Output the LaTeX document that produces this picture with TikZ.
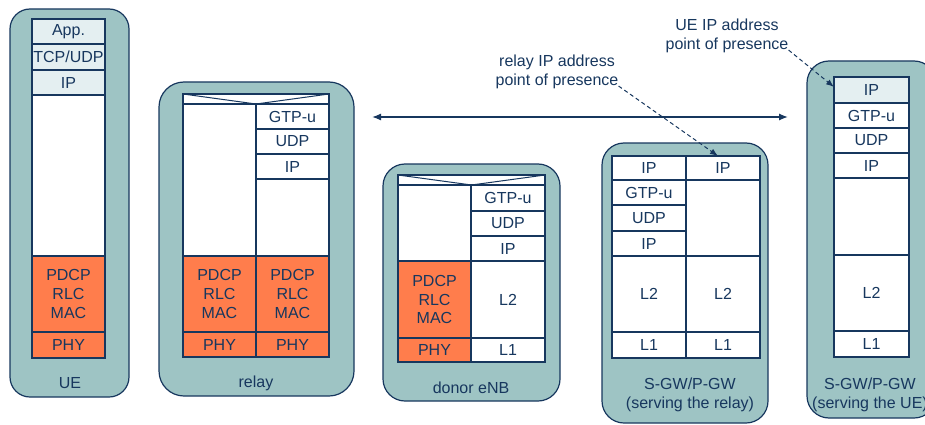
\documentclass[tikz,border=0pt]{standalone}
\usepackage{fontspec}
\setmainfont{Liberation Sans}
\usetikzlibrary{arrows.meta}
\definecolor{tealbg}{RGB}{158,196,196}
\definecolor{navy}{RGB}{23,55,94}
\definecolor{coral}{RGB}{255,125,76}
\definecolor{pale}{RGB}{228,239,241}
% \cellat[style]{name}{x1}{y1}{x2}{y2}{text}
\newcommand{\cellat}[7][]{%
  \node[cell,#1,minimum width={(#5)-(#3)},minimum height={(#6)-(#4)}] (#2)
    at ({((#3)+(#5))/2},{((#4)+(#6))/2}) {#7};}
\tikzset{
  txt/.style={text=navy,font=\fontsize{16}{18.8}\selectfont,align=center,inner sep=0pt},
  cell/.style={txt,draw=navy,line width=1.8pt,fill=white,outer sep=0pt},
  light/.style={fill=pale},
  orange/.style={fill=coral},
  outerbox/.style={draw=navy,line width=1.2pt,fill=tealbg,rounded corners=20pt,inner sep=0pt,outer sep=0pt},
  vline/.style={draw=navy,line width=1pt},
  biarrow/.style={draw=navy,line width=1.3pt,{Latex[length=9pt,width=7pt]}-{Latex[length=9pt,width=7pt]}},
  dasharrow/.style={draw=navy,line width=1pt,dash pattern=on 4pt off 3pt,-{Latex[length=8pt,width=6pt]}}
}
\begin{document}
\begin{tikzpicture}[x=1pt,y=-1pt]
\useasboundingbox (0,0) rectangle (925,425);
% ---------- outer boxes ----------
\cellat[outerbox]{ueOuter}{10}{9}{129}{397}{}
\cellat[outerbox,rounded corners=25pt]{relayOuter}{159}{82}{354}{396}{}
\cellat[outerbox,rounded corners=22pt]{donorOuter}{383}{164}{560}{401}{}
\cellat[outerbox,rounded corners=22pt]{sgwrOuter}{602}{143}{768}{423}{}
\cellat[outerbox,rounded corners=22pt]{sgwuOuter}{807}{61}{936}{418}{}
% ---------- UE ----------
\cellat[light]{ueApp}{32}{19}{105}{44}{App.}
\cellat[light]{ueTcp}{32}{44}{105}{70}{TCP/UDP}
\cellat[light]{ueIp}{32}{70}{105}{95}{IP}
\cellat{ueEmpty}{32}{95}{105}{256}{}
\cellat[orange]{uePdcp}{32}{256}{105}{332}{PDCP\\RLC\\MAC}
\cellat[orange]{uePhy}{32}{332}{105}{358}{PHY}
\node[txt] (ueLbl) at (70,383) {UE};
% ---------- relay ----------
\cellat{rlBand}{183}{94}{329}{104}{}
\draw[vline] (rlBand.north west) -- (rlBand.south) -- (rlBand.north east);
\cellat{rlLeft}{183}{104}{256}{256}{}
\cellat{rrGtp}{256}{104}{329}{129}{GTP-u}
\cellat{rrUdp}{256}{129}{329}{154}{UDP}
\cellat{rrIp}{256}{154}{329}{179}{IP}
\cellat{rrEmpty}{256}{179}{329}{256}{}
\cellat[orange]{rlPdcp}{183}{256}{256}{332}{PDCP\\RLC\\MAC}
\cellat[orange]{rrPdcp}{256}{256}{329}{332}{PDCP\\RLC\\MAC}
\cellat[orange]{rlPhy}{183}{332}{256}{357}{PHY}
\cellat[orange]{rrPhy}{256}{332}{329}{357}{PHY}
\node[txt] (relayLbl) at (256,383) {relay};
% ---------- donor eNB ----------
\cellat{dBand}{398}{175}{545}{185}{}
\draw[vline] (dBand.north west) -- (dBand.south) -- (dBand.north east);
\cellat{dlEmpty}{398}{185}{471}{261}{}
\cellat{drGtp}{471}{185}{545}{211}{GTP-u}
\cellat{drUdp}{471}{211}{545}{236}{UDP}
\cellat{drIp}{471}{236}{545}{261}{IP}
\cellat[orange]{dlPdcp}{398}{261}{471}{338}{PDCP\\RLC\\MAC}
\cellat{drL2}{471}{261}{545}{338}{L2}
\cellat[orange]{dlPhy}{398}{338}{471}{362}{PHY}
\cellat{drL1}{471}{338}{545}{362}{L1}
\node[txt] (donorLbl) at (471,388) {donor eNB};
% ---------- S-GW/P-GW serving the relay ----------
\cellat{slIp}{612}{156}{686}{180}{IP}
\cellat{slGtp}{612}{180}{686}{205}{GTP-u}
\cellat{slUdp}{612}{205}{686}{231}{UDP}
\cellat{slIp2}{612}{231}{686}{256}{IP}
\cellat{slL2}{612}{256}{686}{332}{L2}
\cellat{slL1}{612}{332}{686}{358}{L1}
\cellat{srIp}{686}{156}{760}{180}{IP}
\cellat{srEmpty}{686}{180}{760}{256}{}
\cellat{srL2}{686}{256}{760}{332}{L2}
\cellat{srL1}{686}{332}{760}{358}{L1}
\node[txt] (sgwrLbl) at (690,395) {S-GW/P-GW\\(serving the relay)};
% ---------- S-GW/P-GW serving the UE ----------
\cellat[light]{suIp}{834}{77}{909}{103}{IP}
\cellat{suGtp}{834}{103}{909}{128}{GTP-u}
\cellat{suUdp}{834}{128}{909}{153}{UDP}
\cellat{suIp2}{834}{153}{909}{178}{IP}
\cellat{suEmpty}{834}{178}{909}{255}{}
\cellat{suL2}{834}{255}{909}{331}{L2}
\cellat{suL1}{834}{331}{909}{357}{L1}
\node[txt] (sgwuLbl) at (870,395) {S-GW/P-GW\\(serving the UE)};
% ---------- annotations ----------
\coordinate (arrL) at (372,117);
\coordinate (arrR) at (788,117);
\draw[biarrow] (arrL) -- (arrR);
\node[txt] (relayIpLbl) at (557,72) {relay IP address\\point of presence};
\node[txt] (ueIpLbl) at (727,36) {UE IP address\\point of presence};
\draw[dasharrow] ([yshift=3pt]relayIpLbl.south east) -- ([xshift=-5pt]srIp.north);
\draw[dasharrow] ([yshift=3pt]ueIpLbl.south east) -- ([yshift=-10pt]suIp.north west);
\end{tikzpicture}
\end{document}
